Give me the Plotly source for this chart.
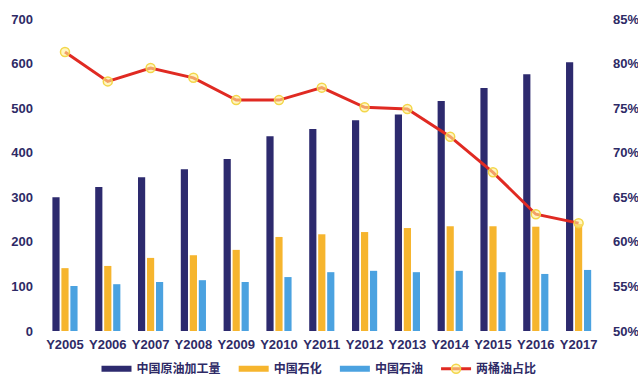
import plotly.graph_objects as go

years = ["Y2005", "Y2006", "Y2007", "Y2008", "Y2009", "Y2010", "Y2011",
         "Y2012", "Y2013", "Y2014", "Y2015", "Y2016", "Y2017"]
china_crude = [300, 323, 345, 363, 386, 437, 453, 473, 486, 516, 545, 576, 603]
sinopec = [141, 146, 164, 170, 182, 211, 217, 222, 231, 235, 235, 234, 240]
petrochina = [101, 105, 110, 114, 110, 121, 132, 135, 132, 135, 132, 128, 137]
share_pct = [81.3, 78.0, 79.5, 78.4, 75.9, 75.9, 77.3, 75.1, 74.9, 71.8, 67.8, 63.1, 62.1]

names = ["中国原油加工量", "中国石化", "中国石油", "两桶油占比"]
c_dark, c_yel, c_blue, c_red = "#2d2a6e", "#f6b52e", "#4ba2e0", "#e02a22"
pad = "\u00a0" * 3

fig = go.Figure()
for vals, col, nm in [(china_crude, c_dark, names[0]), (sinopec, c_yel, names[1]),
                      (petrochina, c_blue, names[2])]:
    fig.add_trace(go.Bar(x=years, y=vals, marker=dict(color=col, line=dict(width=0)),
                         name=nm, showlegend=False))
    fig.add_trace(go.Scatter(x=[None], y=[None], mode="lines", name=nm + pad,
                             line=dict(color=col, width=6)))

fig.add_trace(go.Scatter(x=years, y=share_pct, yaxis="y2", mode="lines+markers", name=names[3],
                         line=dict(color=c_red, width=3),
                         marker=dict(size=9, color="rgba(255,240,150,0.6)",
                                     line=dict(color="#f3d64a", width=1.5))))

tickfont = dict(family="Liberation Sans", size=13, color="#2e2a66", weight="bold")
fig.update_layout(
    width=638, height=381,
    margin=dict(l=50, r=38, t=19, b=50, autoexpand=False),
    paper_bgcolor="white", plot_bgcolor="white",
    barmode="group", bargap=0.37, bargroupgap=0.2,
    xaxis=dict(range=[-0.35, 12.5], showgrid=False, showline=False, ticks="",
               automargin=False, ticklabelstandoff=4, tickfont=tickfont),
    yaxis=dict(range=[0, 700], dtick=100, showgrid=False, zeroline=False, showline=False,
               automargin=False, tickfont=tickfont, ticklabelstandoff=16),
    yaxis2=dict(range=[50, 85], dtick=5, overlaying="y", side="right", showgrid=False,
                zeroline=False, showline=False, ticksuffix="%", tickfont=tickfont,
                automargin=False, ticklabelstandoff=12),
    legend=dict(orientation="h", x=0.5, xanchor="center", xref="container",
                y=0.032, yanchor="middle", yref="container",
                font=dict(family="Noto Sans CJK SC", size=12, color="#2e2a66", weight="bold"),
                itemwidth=30, tracegroupgap=0),
    showlegend=True,
)
fig.write_html("out.html")
